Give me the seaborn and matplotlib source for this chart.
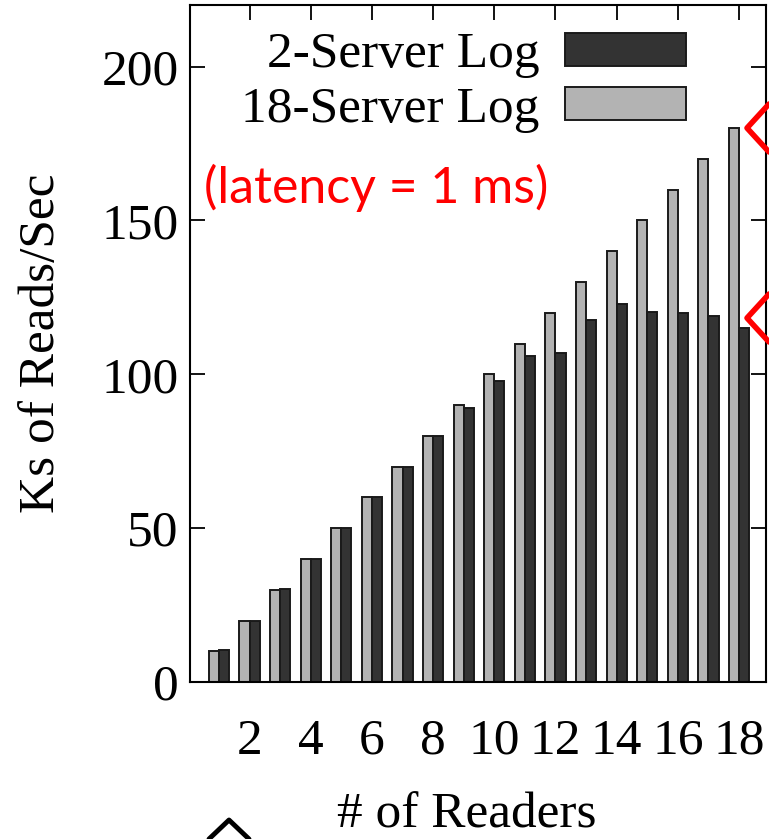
import pandas as pd
import matplotlib
matplotlib.use("Agg")
import matplotlib.pyplot as plt
from matplotlib.patches import Patch
from matplotlib.lines import Line2D
import seaborn as sns

# data
readers = list(range(1, 19))
server18 = [10, 20, 30, 40, 50, 60, 70, 80, 90, 100, 110, 120, 130, 140, 150, 160, 170, 180]
server2 = [10.3, 20, 30.3, 40, 50, 60, 70, 80, 89, 98, 106, 107, 117.5, 123, 120.3, 120, 119, 115]
series_names = ["18-Server Log", "2-Server Log"]
series_colors = ["#b3b3b3", "#333333"]
xtick_labels = ["2", "4", "6", "8", "10", "12", "14", "16", "18"]

df = pd.DataFrame({
    "readers": readers * 2,
    "value": server18 + server2,
    "series": [series_names[0]] * 18 + [series_names[1]] * 18,
})

sns.set_theme(style="white")
plt.rcParams["font.family"] = ["Liberation Serif", "DejaVu Serif"]
plt.rcParams["text.color"] = "black"

fig = plt.figure(figsize=(7.69, 8.39), dpi=100)
ax = fig.add_axes([0.247, 0.187, 0.749, 0.807])

sns.barplot(
    data=df, x="readers", y="value", hue="series",
    hue_order=series_names, palette=series_colors,
    width=0.66, edgecolor="#1a1a1a", linewidth=1.4,
    saturation=1, legend=False, ax=ax,
)

ax.set_xlim(-0.95, 17.88)
ax.set_ylim(0, 220)
ax.set_yticks([0, 50, 100, 150, 200])
ax.set_xticks([int(t) - 1 for t in xtick_labels])
ax.set_xticklabels(xtick_labels)

for s in ax.spines.values():
    s.set_color("black")
    s.set_linewidth(1.5)

ax.tick_params(axis="y", direction="in", length=11, width=1.3, left=True, right=True,
               labelsize=37, pad=8, colors="black")
ax.tick_params(axis="x", direction="in", length=11, width=1.3, bottom=False, top=True,
               labelsize=37, pad=26, colors="black")

ax.set_xlabel("# of Readers", fontsize=37, color="black")
ax.xaxis.set_label_coords(0.48, -0.163)
ax.set_ylabel("Ks of Reads/Sec", fontsize=37, labelpad=26, color="black")

handles = [Patch(facecolor=series_colors[1], edgecolor="#1a1a1a", linewidth=1.4),
           Patch(facecolor=series_colors[0], edgecolor="#1a1a1a", linewidth=1.4)]
ax.legend(handles, [series_names[1], series_names[0]], loc="upper right",
          bbox_to_anchor=(0.915, 1.006), frameon=False, markerfirst=False,
          fontsize=37, handlelength=2.35, handleheight=0.6, handletextpad=0.5,
          labelspacing=0.15, borderpad=0.1, labelcolor="black")

ax.text(0.025, 0.73, "(latency = 1 ms)", transform=ax.transAxes, color="red",
        fontsize=36, family=["Lato", "DejaVu Sans"], va="center", ha="left")

# cut-off annotation marks at the image edges
for tip_y in [128, 318]:
    fig.add_artist(Line2D([769 / 769, 747 / 769, 769 / 769],
                          [1 - (tip_y - 24) / 839, 1 - tip_y / 839, 1 - (tip_y + 24) / 839],
                          color="red", linewidth=4, transform=fig.transFigure))
fig.add_artist(Line2D([209 / 769, 229 / 769, 249 / 769], [0.0, 1 - 820 / 839, 0.0],
                      color="black", linewidth=3.5, transform=fig.transFigure))

fig.savefig("out.png", dpi=100)
